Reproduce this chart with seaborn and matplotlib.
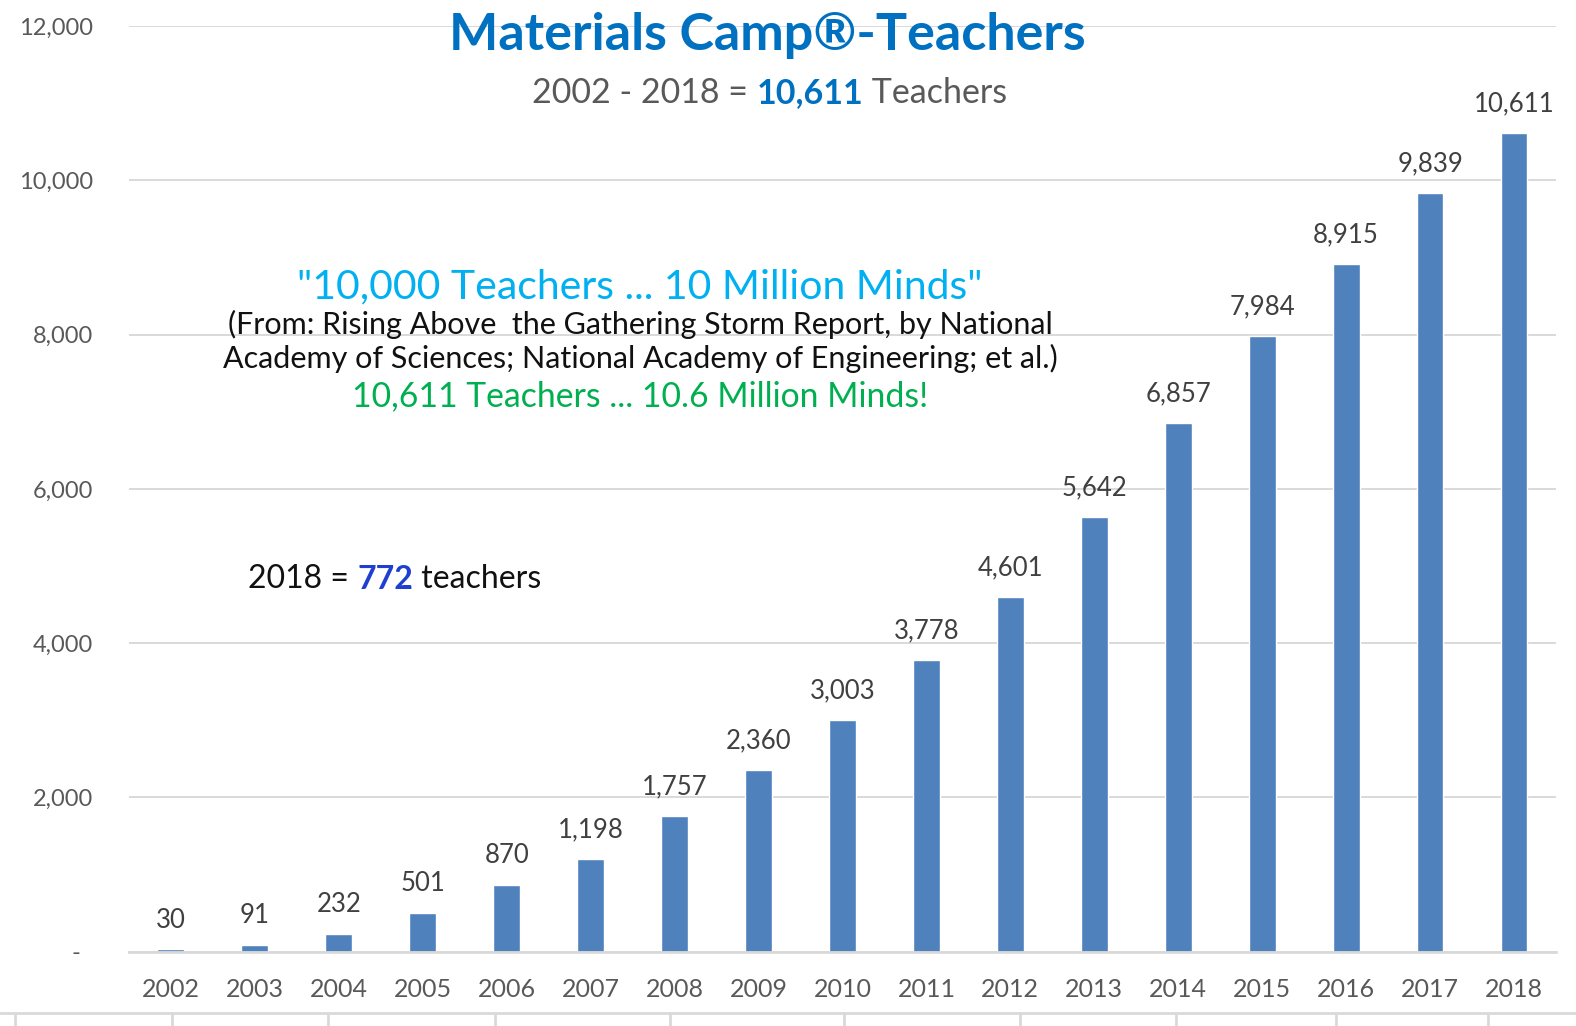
import matplotlib
matplotlib.use("Agg")
import matplotlib.pyplot as plt
import seaborn as sns
from matplotlib.lines import Line2D

# data
years = ["2002", "2003", "2004", "2005", "2006", "2007", "2008", "2009", "2010",
         "2011", "2012", "2013", "2014", "2015", "2016", "2017", "2018"]
teachers = [30, 91, 232, 501, 870, 1198, 1757, 2360, 3003,
            3778, 4601, 5642, 6857, 7984, 8915, 9839, 10611]
y_ticks = [0, 2000, 4000, 6000, 8000, 10000, 12000]
y_tick_labels = ["-  ", "2,000", "4,000", "6,000", "8,000", "10,000", "12,000"]

title = "Materials Camp\u00ae-Teachers"
total_text = "10,611"
year_2018_text = "772"

BAR = "#4F81BD"
GRID = "#D9D9D9"
TICK = "#595959"
TITLE_BLUE = "#0070C0"

sns.set_theme(style="white")
plt.rcParams["font.family"] = ["Lato", "DejaVu Sans"]

fig = plt.figure(figsize=(15.76, 10.26), dpi=100)
ax = fig.add_axes([0.0818, 0.0724, 0.9055, 0.9022])

sns.barplot(x=years, y=teachers, color=BAR, saturation=1, width=0.32, ax=ax)

ax.set_ylim(0, 12000)
ax.set_xlim(-0.5, len(years) - 0.5)
ax.set_yticks(y_ticks)
ax.set_yticklabels(y_tick_labels)
ax.yaxis.grid(True, color=GRID, linewidth=1.4)
ax.set_axisbelow(True)
for s in ["top", "right", "left"]:
    ax.spines[s].set_visible(False)
ax.spines["bottom"].set_color(GRID)
ax.spines["bottom"].set_linewidth(2)
ax.tick_params(axis="y", length=0, pad=26, labelsize=17, labelcolor=TICK)
ax.tick_params(axis="x", length=0, pad=19, labelsize=18, labelcolor=TICK)
ax.set_xlabel("")
ax.set_ylabel("")

ax.bar_label(ax.containers[0], labels=[f"{v:,}" for v in teachers],
             padding=12, fontsize=18.5, color="#404040")

# title block
fig.text(0.487, 1 - 50 / 1026, title, ha="center", va="baseline",
         fontsize=37.5, fontweight="bold", color=TITLE_BLUE)

t1 = fig.text(532 / 1576, 1 - 103 / 1026, "2002 - 2018 = ", ha="left",
              va="baseline", fontsize=24.5, color=TICK)
t2 = ax.annotate(total_text, xy=(1, 0), xycoords=t1, ha="left", va="bottom",
                 fontsize=24.5, fontweight="bold", color=TITLE_BLUE)
ax.annotate(" Teachers", xy=(1, 0), xycoords=t2, ha="left", va="bottom",
            fontsize=24.5, color=TICK)

# quote block
cx = 640 / 1576
fig.text(cx, 1 - 298 / 1026, "\"10,000 Teachers ... 10 Million Minds\"",
         ha="center", va="baseline", fontsize=29.5, color="#00B0F0")
fig.text(cx, 1 - 334 / 1026,
         "(From: Rising Above  the Gathering Storm Report, by National",
         ha="center", va="baseline", fontsize=22, color="#111111")
fig.text(cx, 1 - 368 / 1026,
         "Academy of Sciences; National Academy of Engineering; et al.)",
         ha="center", va="baseline", fontsize=22, color="#111111")
fig.text(cx, 1 - 406 / 1026, "10,611 Teachers ... 10.6 Million Minds!",
         ha="center", va="baseline", fontsize=24.3, color="#00B050")

s1 = fig.text(248 / 1576, 1 - 588 / 1026, "2018 = ", ha="left", va="baseline",
              fontsize=23, color="#111111")
s2 = ax.annotate(year_2018_text, xy=(1, 0), xycoords=s1, ha="left", va="bottom",
                 fontsize=23, fontweight="bold", color="#1F3FD0")
ax.annotate(" teachers", xy=(1, 0), xycoords=s2, ha="left", va="bottom",
            fontsize=23, color="#111111")

# cut-off frame line at the very bottom of the image
y_line = 1 - 1013 / 1026
fig.add_artist(Line2D([0, 1], [y_line, y_line], color=GRID, linewidth=2))
for px in [15, 172, 328, 495, 670, 844, 1020, 1176, 1336, 1488]:
    fig.add_artist(Line2D([px / 1576, px / 1576], [y_line, 0], color=GRID,
                          linewidth=2))

fig.savefig("out.png", dpi=100)
